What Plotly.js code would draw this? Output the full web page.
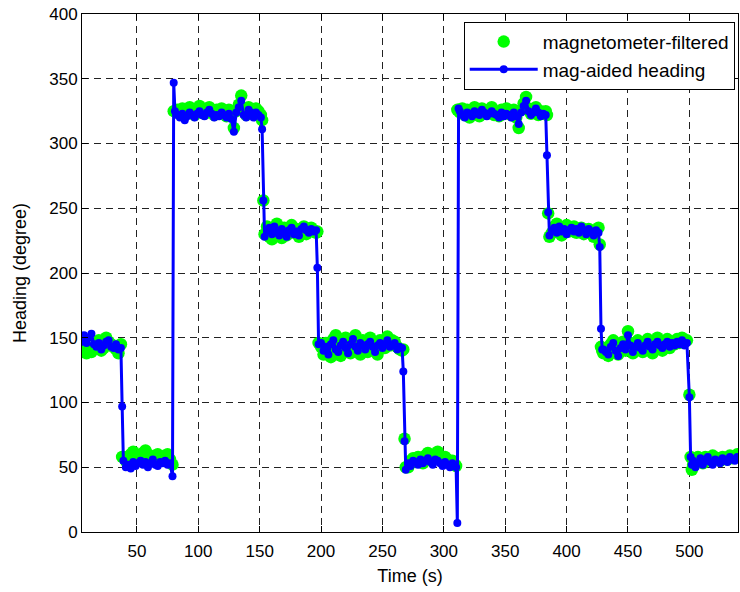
<!DOCTYPE html>
<html>
<head>
<meta charset="utf-8">
<script src="https://cdn.plot.ly/plotly-3.0.1.min.js"></script>
<style>html,body{margin:0;padding:0;background:#fff;}#chart{width:740px;height:592px;}</style>
</head>
<body>
<div id="chart"></div>
<script>
// Time stamps (s)
var time = [
  5,7,9,11,13,15,17,19,21,23,25,27,29,31,33,35,37,
  38,
  39,41,43,45,47,49,51,53,55,57,59,61,63,65,67,69,71,73,75,77,
  79,80,
  81,83,85,87,89,91,93,95,97,99,101,103,105,107,109,111,113,115,117,119,121,123,125,127,129,131,133,135,137,139,141,143,145,147,149,151,
  152,153,154,
  156,158,160,162,164,166,168,170,172,174,176,178,180,182,184,186,188,190,192,194,196,
  197,198,
  200,202,204,206,208,210,212,214,216,218,220,222,224,226,228,230,232,234,236,238,240,242,244,246,248,250,252,254,256,258,260,262,264,266,
  267,268,269,
  271,273,275,277,279,281,283,285,287,289,291,293,295,297,299,301,303,305,307,309,
  310,311,312,
  313,315,317,319,321,323,325,327,329,331,333,335,337,339,341,343,345,347,349,351,353,355,357,359,361,363,365,367,369,371,373,375,377,379,381,
  383,384,385,386,
  388,390,392,394,396,398,400,402,404,406,408,410,412,414,416,418,420,422,424,426,
  427,428,429,
  430,432,434,436,438,440,442,444,446,448,450,452,454,456,458,460,462,464,466,468,470,472,474,476,478,480,482,484,486,488,490,492,494,496,
  498,500,501,502,
  503,505,507,509,511,513,515,517,519,521,523,525,527,529,531,533,535,537,539
];

// Magnetometer-filtered heading (degree)
var magFiltered = [
  139,142,138,141,139,142,145,148,140,142,150,147,145,143,141,138,145,
  58,
  58,55,57,60,62,58,56,59,61,63,60,58,57,59,60,58,57,59,60,56,
  52,325,
  325,326,323,327,322,325,328,324,322,327,329,325,323,327,328,324,322,326,323,327,325,321,326,322,312,325,330,337,325,322,328,326,323,327,325,322,
  318,256,230,
  236,228,226,233,238,230,227,235,229,232,237,231,234,228,233,236,230,232,235,233,231,
  232,146,
  143,137,146,141,135,149,152,144,136,141,150,145,138,147,152,140,137,148,145,139,150,147,141,137,148,146,142,151,144,148,147,143,141,140,
  141,72,50,
  50,55,57,54,58,56,53,59,61,58,56,60,62,57,55,58,56,54,55,52,
  51,326,326,
  324,327,322,326,320,325,328,324,321,327,325,323,326,328,322,324,321,326,323,327,324,322,326,320,312,326,331,336,327,323,326,328,322,325,324,
  325,322,246,228,
  231,236,238,233,229,235,237,232,234,236,231,233,235,230,232,234,231,228,233,235,
  222,143,140,
  138,142,136,145,148,139,137,144,147,140,155,146,138,141,148,143,139,146,149,142,138,147,150,145,140,146,149,142,147,145,149,146,150,147,
  148,106,58,48,
  52,55,58,56,53,58,57,55,59,56,57,55,58,57,56,59,57,58,60
];

// Mag-aided heading (degree)
var magAided = [
  147,152,146,150,153,145,143,146,141,144,147,148,143,142,145,141,142,
  97,
  55,50,52,49,54,51,53,55,52,54,50,53,56,52,51,54,53,55,52,53,
  43,347,
  325,322,320,323,318,321,324,322,320,323,325,322,321,324,326,323,320,322,321,324,322,320,323,319,309,324,328,333,322,320,326,324,320,324,322,320,
  311,256,228,
  233,235,230,236,231,229,234,232,228,233,235,230,232,229,234,236,233,231,234,232,233,
  204,145,
  146,140,143,137,145,148,141,139,144,147,142,138,145,149,143,140,146,144,141,145,147,143,139,144,146,142,145,148,143,144,146,141,143,142,
  124,70,48,
  53,51,55,54,52,56,53,55,57,54,52,56,55,53,51,54,52,50,53,51,
  50,7,327,
  325,322,320,324,323,321,325,323,322,326,324,321,323,325,323,322,320,324,321,323,322,320,324,321,315,324,329,333,325,322,324,327,324,321,323,
  322,291,247,229,
  233,235,231,236,232,234,230,233,235,232,234,231,236,233,230,234,232,229,233,231,
  220,157,141,
  141,139,137,143,146,140,136,142,145,141,152,144,139,143,146,142,140,144,147,143,141,145,147,144,142,145,147,143,146,144,147,145,148,144,
  146,104,58,52,
  55,50,53,57,52,55,58,54,52,56,55,53,57,55,54,58,56,55,58
];

var seriesNames = ['magnetometer-filtered', 'mag-aided heading'];
var xTicks = [50,100,150,200,250,300,350,400,450,500];
var yTicks = [0,50,100,150,200,250,300,350,400];

var fam = 'Liberation Sans, Arial, sans-serif';
var tickFont = {family: fam, size: 17, color: '#000'};
var titleFont = {family: fam, size: 18, color: '#000'};

var traces = [
  {
    x: time, y: magFiltered, name: seriesNames[0],
    type: 'scatter', mode: 'markers',
    marker: {color: '#00ff00', size: 12.5, line: {width: 0}}
  },
  {
    x: time, y: magAided, name: seriesNames[1],
    type: 'scatter', mode: 'lines+markers',
    line: {color: '#0000ff', width: 3},
    marker: {color: '#0000ff', size: 8}
  }
];

var axisCommon = {
  showline: true, linecolor: '#000', linewidth: 1, mirror: 'ticks',
  ticks: 'inside', ticklen: 6, tickcolor: '#000', tickwidth: 1,
  showgrid: true, gridcolor: '#222', gridwidth: 1, griddash: '7px,5px',
  zeroline: false, tickfont: tickFont
};

var layout = {
  width: 740, height: 592,
  margin: {l: 82, r: 2, t: 14, b: 60},
  paper_bgcolor: '#fff', plot_bgcolor: '#fff',
  font: tickFont,
  showlegend: true,
  xaxis: Object.assign({}, axisCommon, {
    range: [5.3, 539.6], tickmode: 'array', tickvals: xTicks, ticktext: xTicks.map(String),
    ticklabelstandoff: 4,
    title: {text: 'Time (s)', font: titleFont, standoff: 8}
  }),
  yaxis: Object.assign({}, axisCommon, {
    range: [0, 400], tickmode: 'array', tickvals: yTicks, ticktext: yTicks.map(String),
    title: {text: 'Heading (degree)', font: titleFont, standoff: 17}
  }),
  legend: {
    x: 0.995, xanchor: 'right', y: 0.985, yanchor: 'top',
    bgcolor: '#fff', bordercolor: '#000', borderwidth: 1,
    font: {family: fam, size: 19, color: '#000'},
    itemwidth: 68, tracegroupgap: 0
  }
};

Plotly.newPlot('chart', traces, layout, {displayModeBar: false, staticPlot: true});
</script>
</body>
</html>
